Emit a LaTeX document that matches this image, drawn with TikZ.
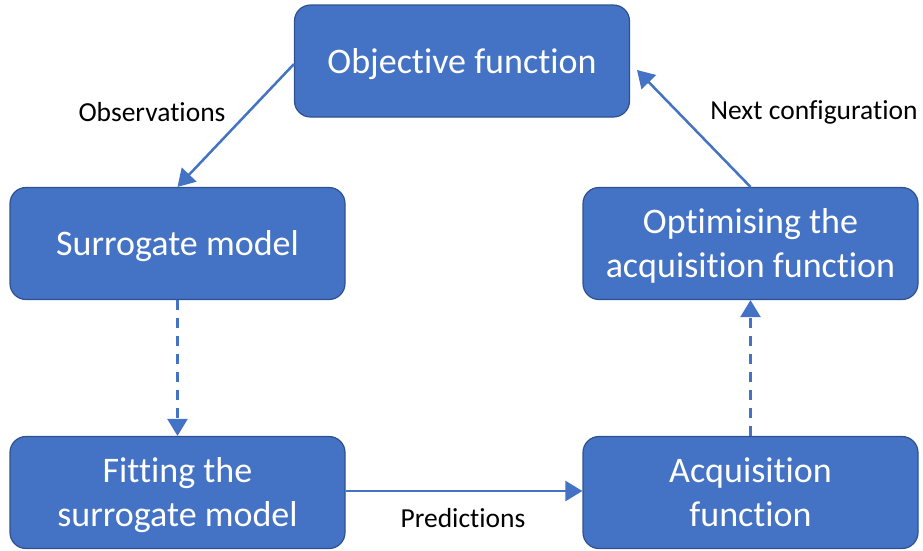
\documentclass[tikz,border=0pt]{standalone}
\usepackage{fontspec}
\setmainfont{Carlito}[RawFeature={-liga;-clig;-calt;-dlig;-rlig}]
\usetikzlibrary{arrows.meta}
\definecolor{boxfill}{HTML}{4472C4}
\definecolor{boxline}{HTML}{2F528F}
\begin{document}
\begin{tikzpicture}[x=1pt,y=-1pt,
  box/.style={draw=boxline,line width=1.2pt,fill=boxfill,rounded corners=16pt,
    minimum width=335pt,minimum height=112pt,text=white,align=center,
    font=\fontsize{36}{44}\selectfont,inner sep=0pt,
    text height=34pt,text depth=10pt},
  twoline/.style={text height=78pt},
  conn/.style={draw=boxfill,line width=2.5pt,-{Triangle[length=17pt,width=20pt]}},
  dconn/.style={conn,dash pattern=on 10pt off 8pt},
  lbl/.style={font=\fontsize{27.5}{32}\selectfont,text=black,inner sep=0pt}]
\useasboundingbox (0,0) rectangle (923,550);
\node[box] (obj) at (462,61) {Objective function};
\node[box] (sur) at (177.5,243.5) {Surrogate model};
\node[box,twoline] (fit) at (177.5,492.5) {Fitting the\\surrogate model};
\node[box,twoline] (opt) at (750.5,243.5) {Optimising the\\acquisition function};
\node[box,twoline] (acq) at (750.5,492.5) {Acquisition\\function};
\coordinate (objL) at (294,64);
\coordinate (objR) at (637,70);
\draw[conn] (objL) -- (sur.north);
\draw[dconn] (sur.south) -- (fit.north);
\draw[conn] (fit.east |- 0,491) -- (acq.west |- 0,491);
\draw[dconn] (acq.north) -- (opt.south);
\draw[conn] (opt.north) -- (objR);
\node[lbl] (l1) at (152,112) {Observations};
\node[lbl] (l2) at (463,518) {Predictions};
\node[lbl] (l3) at (814,112) {Next configuration};
\end{tikzpicture}
\end{document}
